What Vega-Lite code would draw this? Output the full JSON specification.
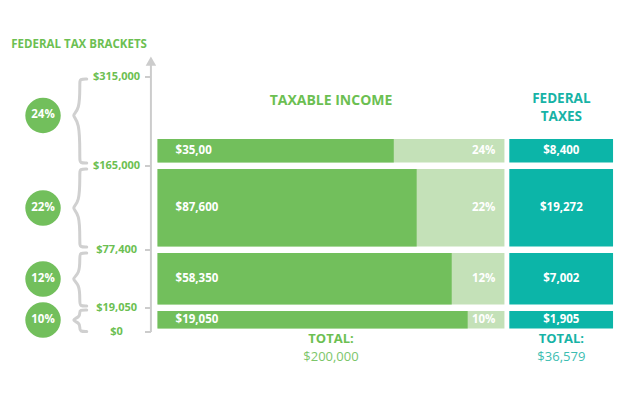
{
  "$schema": "https://vega.github.io/schema/vega-lite/v6.json",
  "width": 629,
  "height": 419,
  "padding": 0,
  "autosize": {"type": "fit", "contains": "padding"},
  "background": "white",
  "config": {
    "view": {"stroke": null},
    "text": {"font": "Open Sans"}
  },
  "data": {"values": [{"total_income": "$200,000", "total_tax": "$36,579"}]},
  "datasets": {
    "bands": [
      {"rate": "10%", "lo": 0, "hi": 19050, "top": 19050, "income": "$19,050", "kept": 89.4, "tax": "$1,905"},
      {"rate": "12%", "lo": 19050, "hi": 77400, "top": 77400, "income": "$58,350", "kept": 84.8, "tax": "$7,002"},
      {"rate": "22%", "lo": 77400, "hi": 165000, "top": 165000, "income": "$87,600", "kept": 74.7, "tax": "$19,272"},
      {"rate": "24%", "lo": 165000, "hi": 315000, "top": 200000, "income": "$35,00", "kept": 68.1, "tax": "$8,400"}
    ],
    "ticks": [
      {"v": 0, "label": "$0"},
      {"v": 19050, "label": "$19,050"},
      {"v": 77400, "label": "$77,400"},
      {"v": 165000, "label": "$165,000"},
      {"v": 315000, "label": "$315,000"}
    ],
    "braces": [
      {"b": "10%", "k": 1, "bx": -20.4, "by": 17470},
      {"b": "10%", "k": 2, "bx": -22.4, "by": 17470},
      {"b": "10%", "k": 3, "bx": -22.4, "by": 15480},
      {"b": "10%", "k": 4, "bx": -22.4, "by": 11910},
      {"b": "10%", "k": 5, "bx": -25, "by": 9525},
      {"b": "10%", "k": 6, "bx": -22.4, "by": 7150},
      {"b": "10%", "k": 7, "bx": -22.4, "by": 3570},
      {"b": "10%", "k": 8, "bx": -22.4, "by": 400},
      {"b": "10%", "k": 9, "bx": -20.4, "by": 400},
      {"b": "12%", "k": 1, "bx": -20.4, "by": 74380},
      {"b": "12%", "k": 2, "bx": -22.4, "by": 74380},
      {"b": "12%", "k": 3, "bx": -22.4, "by": 70360},
      {"b": "12%", "k": 4, "bx": -22.4, "by": 53250},
      {"b": "12%", "k": 5, "bx": -25, "by": 48225},
      {"b": "12%", "k": 6, "bx": -22.4, "by": 43190},
      {"b": "12%", "k": 7, "bx": -22.4, "by": 25090},
      {"b": "12%", "k": 8, "bx": -22.4, "by": 21060},
      {"b": "12%", "k": 9, "bx": -20.4, "by": 21060},
      {"b": "22%", "k": 1, "bx": -20.4, "by": 161880},
      {"b": "22%", "k": 2, "bx": -22.4, "by": 161880},
      {"b": "22%", "k": 3, "bx": -22.4, "by": 157710},
      {"b": "22%", "k": 4, "bx": -22.4, "by": 126420},
      {"b": "22%", "k": 5, "bx": -25, "by": 121200},
      {"b": "22%", "k": 6, "bx": -22.4, "by": 115990},
      {"b": "22%", "k": 7, "bx": -22.4, "by": 84700},
      {"b": "22%", "k": 8, "bx": -22.4, "by": 80530},
      {"b": "22%", "k": 9, "bx": -20.4, "by": 80530},
      {"b": "24%", "k": 1, "bx": -20.4, "by": 311100},
      {"b": "24%", "k": 2, "bx": -22.4, "by": 311100},
      {"b": "24%", "k": 3, "bx": -22.4, "by": 303310},
      {"b": "24%", "k": 4, "bx": -22.4, "by": 249700},
      {"b": "24%", "k": 5, "bx": -25, "by": 240000},
      {"b": "24%", "k": 6, "bx": -22.4, "by": 230200},
      {"b": "24%", "k": 7, "bx": -22.4, "by": 173170},
      {"b": "24%", "k": 8, "bx": -22.4, "by": 168500},
      {"b": "24%", "k": 9, "bx": -20.4, "by": 168500}
    ]
  },
  "layer": [
    {
      "data": {"name": "bands"},
      "mark": {"type": "rect", "color": "#c4e1b8", "yOffset": 3, "y2Offset": -3.5},
      "encoding": {
        "x": {"datum": 0, "type": "quantitative", "axis": null, "scale": {"domain": [-45.4, 135.9], "nice": false, "zero": false}},
        "x2": {"datum": 100},
        "y": {"field": "top", "type": "quantitative", "axis": null, "scale": {
          "domain": [-69000, 0, 19050, 77400, 165000, 200000, 315000, 451000],
          "range": [419, 332, 308, 250, 166, 136, 77, 0],
          "nice": false, "zero": false}},
        "y2": {"field": "lo"}
      }
    },
    {
      "data": {"name": "bands"},
      "mark": {"type": "rect", "color": "#72bf5c", "yOffset": 3, "y2Offset": -3.5},
      "encoding": {
        "x": {"field": "kept", "type": "quantitative"},
        "x2": {"datum": 0},
        "y": {"field": "top", "type": "quantitative"},
        "y2": {"field": "lo"}
      }
    },
    {
      "data": {"name": "bands"},
      "mark": {"type": "rect", "color": "#0cb5a8", "yOffset": 3, "y2Offset": -3.5},
      "encoding": {
        "x": {"datum": 101.4, "type": "quantitative"},
        "x2": {"datum": 131.3},
        "y": {"field": "top", "type": "quantitative"},
        "y2": {"field": "lo"}
      }
    },
    {
      "data": {"name": "bands"},
      "transform": [{"calculate": "(datum.lo + datum.top) / 2", "as": "barmid"}],
      "mark": {"type": "text", "align": "left", "baseline": "middle", "color": "white", "fontWeight": "bold", "fontSize": 11.5},
      "encoding": {
        "x": {"datum": 5.2, "type": "quantitative"},
        "y": {"field": "barmid", "type": "quantitative"},
        "text": {"field": "income"}
      }
    },
    {
      "data": {"name": "bands"},
      "transform": [{"calculate": "(datum.lo + datum.top) / 2", "as": "barmid"}],
      "mark": {"type": "text", "align": "right", "baseline": "middle", "color": "white", "fontWeight": "bold", "fontSize": 11.5},
      "encoding": {
        "x": {"datum": 97.4, "type": "quantitative"},
        "y": {"field": "barmid", "type": "quantitative"},
        "text": {"field": "rate"}
      }
    },
    {
      "data": {"name": "bands"},
      "transform": [{"calculate": "(datum.lo + datum.top) / 2", "as": "barmid"}],
      "mark": {"type": "text", "align": "center", "baseline": "middle", "color": "white", "fontWeight": "bold", "fontSize": 11.5},
      "encoding": {
        "x": {"datum": 116.4, "type": "quantitative"},
        "y": {"field": "barmid", "type": "quantitative"},
        "text": {"field": "tax"}
      }
    },
    {
      "data": {"name": "braces"},
      "mark": {"type": "line", "interpolate": "basis", "color": "#d0d0d0", "strokeWidth": 3, "strokeCap": "round", "strokeJoin": "round"},
      "encoding": {
        "x": {"field": "bx", "type": "quantitative"},
        "y": {"field": "by", "type": "quantitative"},
        "detail": {"field": "b"},
        "order": {"field": "k", "type": "quantitative"}
      }
    },
    {
      "data": {"name": "bands"},
      "transform": [{"calculate": "(datum.lo + datum.hi) / 2", "as": "mid"}],
      "mark": {"type": "point", "shape": "circle", "filled": true, "size": 1257, "color": "#72bf5c", "opacity": 1},
      "encoding": {
        "x": {"datum": -33, "type": "quantitative"},
        "y": {"field": "mid", "type": "quantitative"}
      }
    },
    {
      "data": {"name": "bands"},
      "transform": [{"calculate": "(datum.lo + datum.hi) / 2", "as": "mid"}],
      "mark": {"type": "text", "align": "center", "baseline": "middle", "color": "white", "fontWeight": "bold", "fontSize": 11.5},
      "encoding": {
        "x": {"datum": -33, "type": "quantitative"},
        "y": {"field": "mid", "type": "quantitative"},
        "text": {"field": "rate"}
      }
    },
    {
      "mark": {"type": "rule", "color": "#cccccc", "strokeWidth": 2},
      "encoding": {
        "x": {"datum": -1.9, "type": "quantitative"},
        "y": {"datum": 0, "type": "quantitative"},
        "y2": {"datum": 338000}
      }
    },
    {
      "mark": {"type": "point", "shape": "triangle-up", "filled": true, "size": 110, "color": "#cccccc", "opacity": 1},
      "encoding": {
        "x": {"datum": -1.9, "type": "quantitative"},
        "y": {"datum": 343000, "type": "quantitative"}
      }
    },
    {
      "data": {"name": "ticks"},
      "mark": {"type": "rule", "color": "#cccccc", "strokeWidth": 2},
      "encoding": {
        "x": {"datum": -3.6, "type": "quantitative"},
        "x2": {"datum": -1.9},
        "y": {"field": "v", "type": "quantitative"}
      }
    },
    {
      "data": {"name": "ticks"},
      "mark": {"type": "text", "align": "center", "baseline": "middle", "color": "#6cbf52", "fontWeight": "bold", "fontSize": 11},
      "encoding": {
        "x": {"datum": -11.8, "type": "quantitative"},
        "y": {"field": "v", "type": "quantitative"},
        "text": {"field": "label"}
      }
    },
    {
      "mark": {"type": "text", "text": "FEDERAL TAX BRACKETS", "align": "center", "baseline": "middle", "color": "#6cbf52", "fontWeight": "bold", "fontSize": 11.5},
      "encoding": {
        "x": {"datum": -22.6, "type": "quantitative"},
        "y": {"datum": 371500, "type": "quantitative"}
      }
    },
    {
      "mark": {"type": "text", "text": "TAXABLE INCOME", "align": "center", "baseline": "middle", "color": "#6cbf52", "fontWeight": "bold", "fontSize": 14},
      "encoding": {
        "x": {"datum": 50, "type": "quantitative"},
        "y": {"datum": 268200, "type": "quantitative"}
      }
    },
    {
      "mark": {"type": "text", "text": "FEDERAL", "align": "center", "baseline": "middle", "color": "#17b3a6", "fontWeight": "bold", "fontSize": 13.5},
      "encoding": {
        "x": {"datum": 116.4, "type": "quantitative"},
        "y": {"datum": 271200, "type": "quantitative"}
      }
    },
    {
      "mark": {"type": "text", "text": "TAXES", "align": "center", "baseline": "middle", "color": "#17b3a6", "fontWeight": "bold", "fontSize": 13.5},
      "encoding": {
        "x": {"datum": 116.4, "type": "quantitative"},
        "y": {"datum": 237000, "type": "quantitative"}
      }
    },
    {
      "mark": {"type": "text", "text": "TOTAL:", "align": "center", "baseline": "middle", "color": "#6cbf52", "fontWeight": "bold", "fontSize": 13},
      "encoding": {
        "x": {"datum": 50, "type": "quantitative"},
        "y": {"datum": -5550, "type": "quantitative"}
      }
    },
    {
      "mark": {"type": "text", "align": "center", "baseline": "middle", "color": "#7cc66a", "fontSize": 13},
      "encoding": {
        "x": {"datum": 50, "type": "quantitative"},
        "y": {"datum": -19500, "type": "quantitative"},
        "text": {"field": "total_income"}
      }
    },
    {
      "mark": {"type": "text", "text": "TOTAL:", "align": "center", "baseline": "middle", "color": "#17b3a6", "fontWeight": "bold", "fontSize": 13},
      "encoding": {
        "x": {"datum": 116.4, "type": "quantitative"},
        "y": {"datum": -5550, "type": "quantitative"}
      }
    },
    {
      "mark": {"type": "text", "align": "center", "baseline": "middle", "color": "#3cbdb1", "fontSize": 13},
      "encoding": {
        "x": {"datum": 116.4, "type": "quantitative"},
        "y": {"datum": -19500, "type": "quantitative"},
        "text": {"field": "total_tax"}
      }
    }
  ]
}
